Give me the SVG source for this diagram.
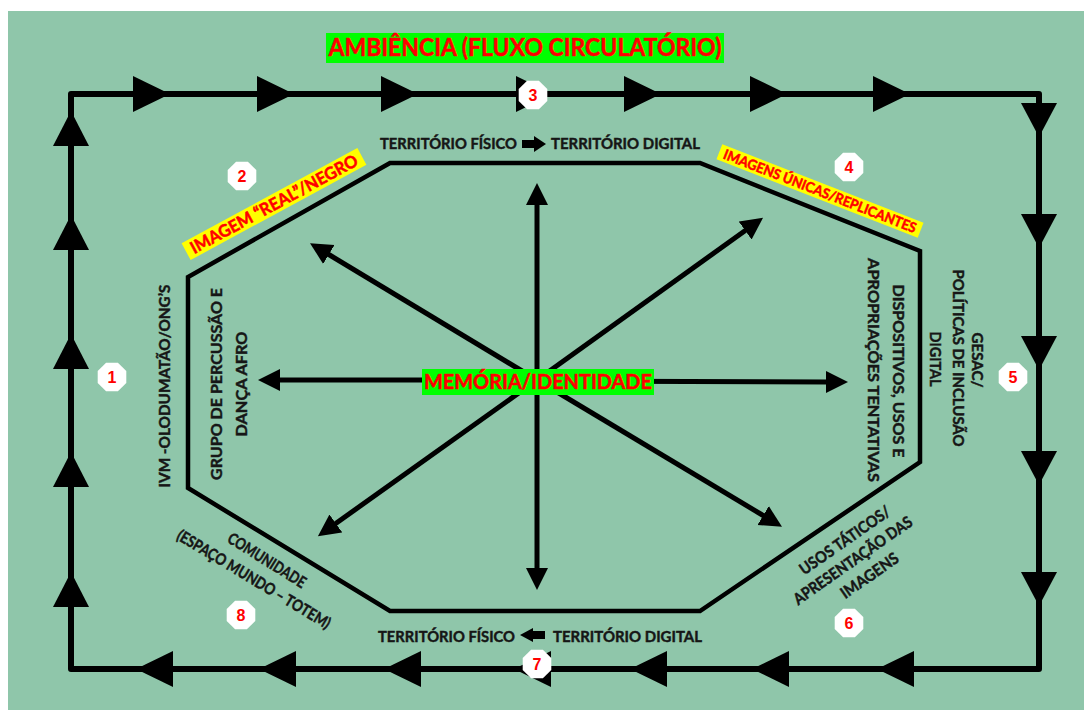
<svg xmlns="http://www.w3.org/2000/svg" width="1084" height="710" viewBox="0 0 1084 710">
<style>
.t{font-family:Lato,"Liberation Sans",sans-serif;font-weight:bold;fill:#161616;stroke:#161616;stroke-width:0.45px;font-size:16px}
.rt{font-family:Lato,"Liberation Sans",sans-serif;font-weight:bold;fill:#ff0000;stroke:#ff0000;stroke-width:0.5px}
.n{font-family:"Liberation Sans",Arial,sans-serif;font-weight:bold;fill:#ff0000;font-size:16px;text-anchor:middle}
.ax{stroke:#000;stroke-width:5;fill:none;marker-end:url(#ah)}
.fa{fill:#000}
</style>
<defs>
<marker id="ah" markerUnits="userSpaceOnUse" markerWidth="24" markerHeight="24" refX="1" refY="11" orient="auto"><path d="M0,0 L22,11 L0,22 z" fill="#000"/></marker>
<polygon id="oct" points="14.3,5.9 5.9,14.3 -5.9,14.3 -14.3,5.9 -14.3,-5.9 -5.9,-14.3 5.9,-14.3 14.3,-5.9" fill="#fff"/>
</defs>
<rect width="1084" height="710" fill="#fff"/>
<rect x="8" y="11" width="1076" height="699" fill="#8fc6aa"/>

<g id="connectors">
  <!-- outer circulation frame -->
  <path d="M71,669 L71,94 L1039,94 L1039,669 Z" fill="none" stroke="#000" stroke-width="6" stroke-linejoin="round"/>
  <g class="fa">
    <polygon points="133,76 170,94 133,112"/>
    <polygon points="257,76 294,94 257,112"/>
    <polygon points="381,76 418,94 381,112"/>
    <polygon points="516,76 553,94 516,112"/>
    <polygon points="624,76 661,94 624,112"/>
    <polygon points="750,76 787,94 750,112"/>
    <polygon points="873,76 910,94 873,112"/>
    <polygon points="1021,103 1057,103 1039,137"/>
    <polygon points="1021,214 1057,214 1039,248"/>
    <polygon points="1021,336 1057,336 1039,370"/>
    <polygon points="1021,451 1057,451 1039,485"/>
    <polygon points="1021,572 1057,572 1039,606"/>
    <polygon points="136,669 173,651 173,687"/>
    <polygon points="259,669 296,651 296,687"/>
    <polygon points="384,669 421,651 421,687"/>
    <polygon points="514,669 551,651 551,687"/>
    <polygon points="630,669 667,651 667,687"/>
    <polygon points="752,669 789,651 789,687"/>
    <polygon points="877,669 914,651 914,687"/>
    <polygon points="71,111 89,146 53,146"/>
    <polygon points="71,215 89,250 53,250"/>
    <polygon points="71,334 89,369 53,369"/>
    <polygon points="71,452 89,487 53,487"/>
    <polygon points="71,572 89,607 53,607"/>
  </g>
  <!-- central radiating arrows -->
  <line class="ax" x1="537" y1="380" x2="537" y2="204"/>
  <line class="ax" x1="537" y1="380" x2="537" y2="569"/>
  <line class="ax" x1="537" y1="380" x2="279" y2="380"/>
  <line class="ax" x1="537" y1="381" x2="827" y2="382"/>
  <line class="ax" x1="537" y1="380" x2="328" y2="254"/>
  <line class="ax" x1="537" y1="380" x2="746" y2="230"/>
  <line class="ax" x1="537" y1="380" x2="335" y2="524"/>
  <line class="ax" x1="537" y1="380" x2="764" y2="516"/>
</g>

<g id="territory">
  <polygon points="390,163 700,163 920,251 920,462 700,611 390,611 188,488 188,277" fill="none" stroke="#000" stroke-width="4.5"/>
</g>

<g id="title">
  <rect x="326" y="33" width="398" height="30" fill="#00ff00"/>
  <text class="rt" x="525" y="56" font-size="25" text-anchor="middle" textLength="393" lengthAdjust="spacingAndGlyphs">AMBIÊNCIA (FLUXO CIRCULATÓRIO)</text>
</g>

<g id="center">
  <rect x="422" y="369" width="232" height="26" fill="#00ff00"/>
  <text class="rt" x="538" y="389" font-size="20" text-anchor="middle" textLength="228" lengthAdjust="spacingAndGlyphs">MEMÓRIA/IDENTIDADE</text>
</g>

<g id="territory-top">
  <text class="t" x="380" y="149" font-size="15" textLength="137" lengthAdjust="spacingAndGlyphs">TERRITÓRIO FÍSICO</text>
  <polygon class="fa" points="522,140 534,140 534,136 546,144 534,152 534,148 522,148"/>
  <text class="t" x="551" y="149" font-size="15" textLength="149" lengthAdjust="spacingAndGlyphs">TERRITÓRIO DIGITAL</text>
</g>

<g id="territory-bottom">
  <text class="t" x="378" y="642" font-size="15" textLength="137" lengthAdjust="spacingAndGlyphs">TERRITÓRIO FÍSICO</text>
  <polygon class="fa" points="520,635 533,628 533,631 545,631 545,639 533,639 533,642"/>
  <text class="t" x="553" y="642" font-size="15" textLength="149" lengthAdjust="spacingAndGlyphs">TERRITÓRIO DIGITAL</text>
</g>

<g id="label-imagem-real">
  <g transform="translate(274,204) rotate(-28.5)">
    <rect x="-100" y="-9.5" width="200" height="19" fill="#ffff00"/>
    <text class="rt" x="0" y="6" font-size="17" text-anchor="middle" textLength="188" lengthAdjust="spacingAndGlyphs">IMAGEM “REAL”/NEGRO</text>
  </g>
</g>

<g id="label-imagens-unicas">
  <g transform="translate(820,191) rotate(21.3)">
    <rect x="-108" y="-8" width="216" height="16" fill="#ffff00"/>
    <text class="rt" x="0" y="5" font-size="14" text-anchor="middle" textLength="206" lengthAdjust="spacingAndGlyphs">IMAGENS ÚNICAS/REPLICANTES</text>
  </g>
</g>

<g id="label-left">
  <text class="t" transform="translate(170,386) rotate(-90)" text-anchor="middle" textLength="203" lengthAdjust="spacingAndGlyphs">IVM -OLODUMATÃO/ONG’S</text>
  <text class="t" transform="translate(222,384) rotate(-90)" text-anchor="middle" textLength="192" lengthAdjust="spacingAndGlyphs">GRUPO DE PERCUSSÃO E</text>
  <text class="t" transform="translate(247,384) rotate(-90)" text-anchor="middle" textLength="105" lengthAdjust="spacingAndGlyphs">DANÇA AFRO</text>
</g>

<g id="label-right">
  <text class="t" transform="translate(893,371) rotate(90)" text-anchor="middle" textLength="173" lengthAdjust="spacingAndGlyphs">DISPOSITIVOS, USOS E</text>
  <text class="t" transform="translate(868,370) rotate(90)" text-anchor="middle" textLength="224" lengthAdjust="spacingAndGlyphs">APROPRIAÇÕES TENTATIVAS</text>
</g>

<g id="label-gesac">
  <text class="t" transform="translate(972,360) rotate(90)" text-anchor="middle" textLength="55" lengthAdjust="spacingAndGlyphs">GESAC/</text>
  <text class="t" transform="translate(953,358) rotate(90)" text-anchor="middle" textLength="177" lengthAdjust="spacingAndGlyphs">POLÍTICAS DE INCLUSÃO</text>
  <text class="t" transform="translate(930,359) rotate(90)" text-anchor="middle" textLength="55" lengthAdjust="spacingAndGlyphs">DIGITAL</text>
</g>

<g id="label-comunidade">
  <text class="t" font-size="15" transform="translate(264,565) rotate(32)" text-anchor="middle" textLength="89" lengthAdjust="spacingAndGlyphs">COMUNIDADE</text>
  <text class="t" font-size="15" transform="translate(251,584) rotate(31)" text-anchor="middle" textLength="176" lengthAdjust="spacingAndGlyphs">(ESPAÇO MUNDO – TOTEM)</text>
</g>

<g id="label-usos">
  <g transform="translate(856,565) rotate(-35)">
    <text class="t" font-size="15" x="5" y="-21" text-anchor="middle" textLength="107" lengthAdjust="spacingAndGlyphs">USOS TÁTICOS/</text>
    <text class="t" font-size="15" x="0" y="0" text-anchor="middle" textLength="141" lengthAdjust="spacingAndGlyphs">APRESENTAÇÃO DAS</text>
    <text class="t" font-size="15" x="5" y="22" text-anchor="middle" textLength="67" lengthAdjust="spacingAndGlyphs">IMAGENS</text>
  </g>
</g>

<g id="n1"><use href="#oct" x="112" y="377"/><text class="n" x="112" y="383">1</text></g>
<g id="n2"><use href="#oct" x="242" y="176"/><text class="n" x="242" y="182">2</text></g>
<g id="n3"><use href="#oct" x="533" y="95"/><text class="n" x="533" y="101">3</text></g>
<g id="n4"><use href="#oct" x="849" y="167"/><text class="n" x="849" y="173">4</text></g>
<g id="n5"><use href="#oct" x="1013" y="377"/><text class="n" x="1013" y="383">5</text></g>
<g id="n6"><use href="#oct" x="849" y="623"/><text class="n" x="849" y="629">6</text></g>
<g id="n7"><use href="#oct" x="537" y="664"/><text class="n" x="537" y="670">7</text></g>
<g id="n8"><use href="#oct" x="241" y="615"/><text class="n" x="241" y="621">8</text></g>
</svg>
